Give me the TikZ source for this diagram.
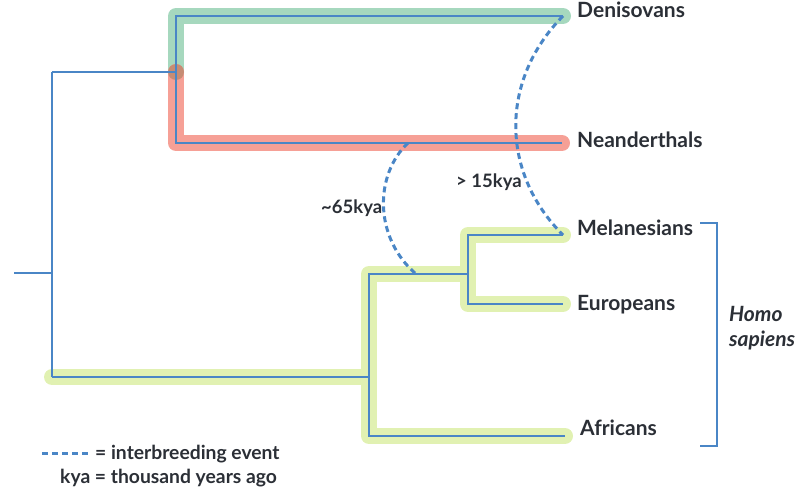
\documentclass[tikz,border=0pt]{standalone}
\usepackage{fontspec}
\setmainfont{Lato}
\usetikzlibrary{arrows.meta}
\definecolor{treeblue}{HTML}{4A86C6}
\definecolor{denigreen}{HTML}{A6D8BE}
\definecolor{neared}{HTML}{F6A096}
\definecolor{sapgreen}{HTML}{E1F1B2}
\definecolor{mixbrown}{HTML}{C68C74}
\definecolor{labelgray}{HTML}{2B2F36}
\tikzset{
  branch/.style={treeblue,line width=2.8pt},
  band/.style={line width=16pt,line cap=round,line join=round},
  gene/.style={treeblue,line width=3pt,dash pattern=on 6pt off 4pt},
  taxon/.style={anchor=base west,inner sep=0pt,text=labelgray,font=\fontsize{21}{25}\selectfont\bfseries},
  note/.style={taxon,font=\fontsize{19.3}{23}\selectfont\bfseries},
  age/.style={taxon,font=\fontsize{18.5}{22}\selectfont\bfseries},
  genus/.style={taxon,font=\fontsize{21}{25}\selectfont\bfseries\itshape}
}
\begin{document}
\begin{tikzpicture}[x=1pt,y=-1pt]
\useasboundingbox (0,0) rectangle (803,487);
% tree points
\coordinate (root) at (14,273);
\coordinate (r) at (52,273);
\coordinate (rtop) at (52,72);
\coordinate (rbot) at (52,377);
\coordinate (arch) at (176,72);
\coordinate (archtop) at (176,16);
\coordinate (archbot) at (176,143);
\coordinate (den) at (563,16);
\coordinate (nea) at (562,143);
\coordinate (hs) at (369,377);
\coordinate (hstop) at (369,274);
\coordinate (hsbot) at (369,436);
\coordinate (ooa) at (468,274);
\coordinate (ooatop) at (468,235);
\coordinate (ooabot) at (468,304);
\coordinate (mel) at (563,235);
\coordinate (eur) at (563,304);
\coordinate (afr) at (565,436);
\coordinate (neamix) at (408,143);
\coordinate (hsmix) at (416,274);

% coloured bands
\draw[band,denigreen] (arch) -- (archtop) -- (den);
\draw[band,neared] (arch) -- (archbot) -- (nea);
\fill[mixbrown] (arch) circle (8);
\draw[band,sapgreen] (mel) -- (ooatop) -- (ooabot) -- (eur);
\draw[band,sapgreen] (ooa) -- (hstop) -- (hsbot) -- (afr);
\draw[band,sapgreen] (rbot) -- (hs);

% tree
\draw[branch] (root) -- (r);
\draw[branch] (rtop) -- (rbot);
\draw[branch] (rtop) -- (arch);
\draw[branch] (den) -- (archtop) -- (archbot) -- (nea);
\draw[branch] (rbot) -- (hs);
\draw[branch] (ooa) -- (hstop) -- (hsbot) -- (afr);
\draw[branch] (mel) -- (ooatop) -- (ooabot) -- (eur);

% interbreeding
\draw[gene] (neamix) .. controls (374,175) and (374,238) .. (hsmix);
\draw[gene] (den) .. controls (500,80) and (500,172) .. (mel);
\node[age] (k65) at (321,213) {\textasciitilde65kya};
\node[age] (k15) at (456,187) {> 15kya};

% labels
\node[taxon] (denl) at (577,18) {Denisovans};
\node[taxon] (neal) at (577,147) {Neanderthals};
\node[taxon] (mell) at (577,235) {Melanesians};
\node[taxon] (eurl) at (577,310) {Europeans};
\node[taxon] (afrl) at (580,435) {Africans};
\draw[treeblue,line width=2.4pt] (700,223) -- (717,223) -- (717,446) -- (700,446);
\node[genus] (homo) at (729,321) {Homo};
\node[genus] (sap) at (729,346) {sapiens};

% legend
\coordinate (leg1) at (42,453);
\coordinate (leg2) at (88,453);
\draw[gene] (leg1) -- (leg2);
\node[note] (legd) at (95,459) {= interbreeding event};
\node[note] (legk) at (60,483) {kya = thousand years ago};
\end{tikzpicture}
\end{document}
